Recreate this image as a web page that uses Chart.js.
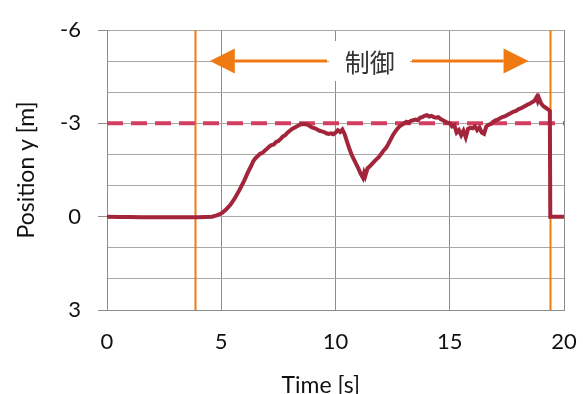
<!DOCTYPE html>
<html lang="ja">
<head>
<meta charset="UTF-8">
<title>Position y</title>
<script src="https://cdn.jsdelivr.net/npm/chart.js@4.4.1/dist/chart.umd.min.js"></script>
<style>
    body { margin: 0; background: #fff; }
    #wrap { width: 583px; height: 394px; }
</style>
</head>
<body>
<div id="wrap"><canvas id="chart" width="583" height="394"></canvas></div>
<script>
// measured position y [m] over time [s]
const time = [0, 0.5, 1.0, 1.5, 2.0, 2.5, 3.0, 3.5, 4.0, 4.3, 4.6, 4.8, 5.0, 5.2, 5.4, 5.6, 5.8, 6.0, 6.15, 6.3,
    6.4, 6.5, 6.6, 6.7, 6.8, 6.9, 7.0, 7.1, 7.2, 7.3, 7.4, 7.5, 7.6, 7.7, 7.8, 7.9, 8.0, 8.1, 8.2, 8.3,
    8.4, 8.5, 8.6, 8.7, 8.8, 8.9, 9.0, 9.1, 9.2, 9.3, 9.4, 9.5, 9.6, 9.7, 9.8, 9.9, 10.0, 10.1, 10.2, 10.3,
    10.4, 10.5, 10.6, 10.7, 10.8, 10.9, 11.0, 11.1, 11.2, 11.25, 11.3, 11.4, 11.5, 11.6, 11.7, 11.8, 11.9, 12.0, 12.1, 12.2,
    12.3, 12.4, 12.5, 12.6, 12.7, 12.8, 12.9, 13.0, 13.1, 13.2, 13.3, 13.4, 13.5, 13.6, 13.7, 13.8, 13.9, 14.0, 14.1, 14.2,
    14.3, 14.4, 14.5, 14.6, 14.7, 14.8, 14.9, 15.0, 15.1, 15.2, 15.3, 15.4, 15.5, 15.6, 15.7, 15.8, 15.9, 16.0, 16.1, 16.2,
    16.3, 16.4, 16.5, 16.6, 16.7, 16.8, 16.9, 17.0, 17.1, 17.2, 17.3, 17.4, 17.5, 17.6, 17.7, 17.8, 17.9, 18.0, 18.1, 18.2,
    18.3, 18.4, 18.5, 18.6, 18.7, 18.8, 18.85, 18.9, 19.0, 19.1, 19.2, 19.3, 19.38, 19.4, 20];
const posY = [0, 0.01, 0.01, 0.02, 0.02, 0.02, 0.02, 0.02, 0.02, 0.01, 0.0, -0.04, -0.1, -0.22, -0.38, -0.6, -0.86, -1.15, -1.4, -1.62,
    -1.78, -1.88, -1.95, -2.02, -2.05, -2.12, -2.18, -2.25, -2.3, -2.32, -2.4, -2.43, -2.5, -2.58, -2.62, -2.7, -2.76, -2.82, -2.86, -2.9,
    -2.94, -2.97, -2.98, -2.97, -2.95, -2.9, -2.86, -2.84, -2.8, -2.76, -2.74, -2.72, -2.68, -2.66, -2.68, -2.65, -2.7, -2.78, -2.72, -2.8,
    -2.65, -2.42, -2.2, -2.0, -1.85, -1.7, -1.55, -1.38, -1.25, -1.4, -1.3, -1.55, -1.62, -1.7, -1.78, -1.85, -1.92, -2.02, -2.12, -2.2,
    -2.32, -2.46, -2.6, -2.72, -2.82, -2.9, -2.95, -3.0, -3.05, -3.02, -3.08, -3.1, -3.12, -3.1, -3.18, -3.2, -3.24, -3.26, -3.22, -3.24,
    -3.2, -3.18, -3.2, -3.14, -3.1, -3.06, -3.02, -3.0, -2.9, -2.94, -2.7, -2.78, -2.62, -2.76, -2.55, -2.82, -2.86, -2.84, -2.9, -2.78,
    -2.86, -2.7, -2.66, -2.9, -2.95, -2.98, -3.05, -3.1, -3.12, -3.16, -3.2, -3.22, -3.26, -3.3, -3.34, -3.38, -3.4, -3.45, -3.48, -3.52,
    -3.56, -3.6, -3.63, -3.68, -3.72, -3.84, -3.72, -3.82, -3.64, -3.55, -3.5, -3.45, -3.4, 0, 0];

// target line
const targetTime = [0, 20];
const targetY = [-3, -3];

// control interval and its label
const controlStart = 3.85;
const controlEnd = 19.4;
const arrowY = -5;
const arrowLeft = [9.63, 4.5];    // from, tip
const arrowRight = [13.35, 18.45]; // from, tip
const controlLabel = '制御';
const labelX = 11.5;

const yMajor = [-6, -3, 0, 3];

const ORANGE = '#f07a12';
const FONT = 'Lato, "Open Sans", sans-serif';

const controlPlugin = {
    id: 'control',
    beforeDatasetsDraw(chart) {
        const { ctx, chartArea, scales } = chart;
        ctx.save();
        ctx.strokeStyle = ORANGE;
        ctx.lineWidth = 2;
        [controlStart, controlEnd].forEach(function(t) {
            const x = Math.round(scales.x.getPixelForValue(t)) + 0.5;
            ctx.beginPath();
            ctx.moveTo(x, chartArea.top);
            ctx.lineTo(x, chartArea.bottom);
            ctx.stroke();
        });
        ctx.restore();
    },
    afterDatasetsDraw(chart) {
        const { ctx, scales } = chart;
        const y = scales.y.getPixelForValue(arrowY);
        const ax1 = scales.x.getPixelForValue(arrowLeft[0]);
        const ax2 = scales.x.getPixelForValue(arrowRight[0]);
        ctx.save();
        // white box behind the label
        ctx.fillStyle = '#fff';
        ctx.fillRect(ax1 + 2, y - 20, ax2 - ax1 - 4, 40);

        ctx.strokeStyle = ORANGE;
        ctx.fillStyle = ORANGE;
        ctx.lineWidth = 3;
        [arrowLeft, arrowRight].forEach(function(a) {
            const from = scales.x.getPixelForValue(a[0]);
            const tip = scales.x.getPixelForValue(a[1]);
            const dir = tip > from ? 1 : -1;
            const headLen = 25;
            ctx.beginPath();
            ctx.moveTo(from, y);
            ctx.lineTo(tip - dir * headLen, y);
            ctx.stroke();
            ctx.beginPath();
            ctx.moveTo(tip, y);
            ctx.lineTo(tip - dir * headLen, y - 12.5);
            ctx.lineTo(tip - dir * headLen, y + 12.5);
            ctx.closePath();
            ctx.fill();
        });

        ctx.fillStyle = '#333';
        ctx.font = '25px "Noto Sans CJK JP", sans-serif';
        ctx.textAlign = 'center';
        ctx.textBaseline = 'middle';
        ctx.fillText(controlLabel, scales.x.getPixelForValue(labelX), y + 1);
        ctx.restore();
    }
};

new Chart(document.getElementById('chart').getContext('2d'), {
    type: 'line',
    data: {
        datasets: [{
            data: time.map((t, i) => ({ x: t, y: posY[i] })),
            borderColor: '#a3253b',
            borderWidth: 4,
            pointRadius: 0,
            tension: 0
        }, {
            data: targetTime.map((t, i) => ({ x: t, y: targetY[i] })),
            borderColor: '#d23f60',
            borderWidth: 4,
            borderDash: [16, 8],
            pointRadius: 0
        }]
    },
    options: {
        responsive: false,
        animation: false,
        layout: { padding: { top: 30, right: 19, left: 0, bottom: 0 } },
        plugins: { legend: { display: false }, tooltip: { enabled: false } },
        scales: {
            x: {
                type: 'linear',
                min: 0,
                max: 20,
                ticks: { stepSize: 5, color: '#111', font: { family: FONT, size: 22 }, padding: 19 },
                grid: { color: '#8c8c8c', drawTicks: false },
                border: { color: '#8c8c8c' },
                title: {
                    display: true,
                    text: 'Time [s]     ',
                    color: '#111',
                    font: { family: FONT, size: 23, lineHeight: 1 },
                    padding: { top: 0, bottom: -3.5 }
                },
                afterFit: function(scale) {
                    scale.height = 84;
                    scale.paddingLeft = 0;
                    scale.paddingRight = 0;
                }
            },
            y: {
                type: 'linear',
                reverse: true,
                min: -6,
                max: 3,
                ticks: {
                    stepSize: 1,
                    color: '#111',
                    font: { family: FONT, size: 22 },
                    padding: 17,
                    callback: v => yMajor.includes(v) ? String(v) : ''
                },
                grid: {
                    color: '#a8a8a8',
                    tickLength: 9,
                    tickColor: c => (c.tick && yMajor.includes(c.tick.value)) ? '#8c8c8c' : 'rgba(0,0,0,0)'
                },
                border: { color: '#8c8c8c' },
                title: {
                    display: true,
                    text: 'Position y [m]',
                    color: '#111',
                    font: { family: FONT, size: 23, lineHeight: 1 },
                    padding: { top: 15.5, bottom: 0 }
                },
                afterFit: function(scale) {
                    scale.width = 107;
                    scale.paddingTop = 0;
                    scale.paddingBottom = 0;
                }
            }
        }
    },
    plugins: [controlPlugin]
});
</script>
</body>
</html>
